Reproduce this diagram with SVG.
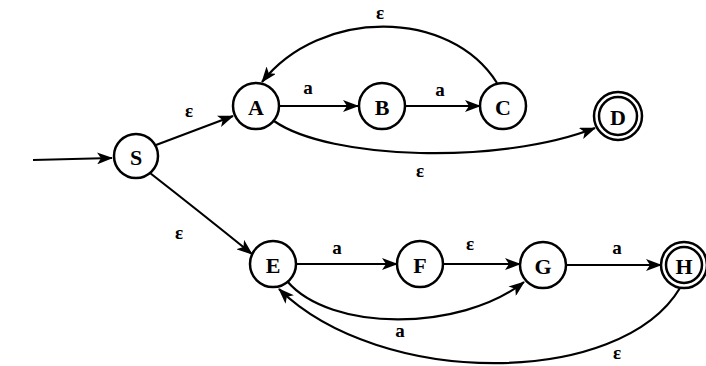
<svg xmlns="http://www.w3.org/2000/svg" width="706" height="366" viewBox="0 0 706 366">
<defs>
<marker id="ah" markerUnits="userSpaceOnUse" markerWidth="16" markerHeight="12" refX="15" refY="6" orient="auto">
<path d="M0,0 L16,6 L0,12 L4,6 Z" fill="#000"/>
</marker>
<style>
.n{fill:#fff;stroke:#000;stroke-width:2.5}
.t{font-family:"Liberation Serif","Times New Roman",serif;font-weight:bold;font-size:22px;text-anchor:middle;dominant-baseline:central;fill:#000}
.l{font-family:"Liberation Serif","Times New Roman",serif;font-weight:bold;font-size:19px;text-anchor:middle;dominant-baseline:central;fill:#000}
.e{fill:none;stroke:#000;stroke-width:2.2;marker-end:url(#ah)}
</style>
</defs>
<rect width="706" height="366" fill="#fff"/>
<g id="connectors">
<path class="e" d="M33,160 L112,158"/>
<path class="e" d="M156,145 L233,116"/>
<path class="e" d="M279,106 L358,106"/>
<path class="e" d="M406,106 L480,106"/>
<path class="e" d="M497,83 C450,8 320,8 262,82"/>
<path class="e" d="M274,121 C330,160 500,165 595,128"/>
<path class="e" d="M150,173 Q200,212 252,254"/>
<path class="e" d="M297,264 L397,264"/>
<path class="e" d="M443,264 L520,264"/>
<path class="e" d="M566,265 L661,265"/>
<path class="e" d="M287,281 C330,332 460,332 524,282"/>
<path class="e" d="M680,288 C620,388 380,388 279,289"/>
</g>
<g id="labels">
<text class="l" x="189" y="110">ε</text>
<text class="l" x="308" y="87">a</text>
<text class="l" x="440" y="89">a</text>
<text class="l" x="380" y="12">ε</text>
<text class="l" x="420" y="170">ε</text>
<text class="l" x="179" y="232">ε</text>
<text class="l" x="337" y="247">a</text>
<text class="l" x="470" y="243">ε</text>
<text class="l" x="617" y="247">a</text>
<text class="l" x="400" y="330">a</text>
<text class="l" x="617" y="352">ε</text>
</g>
<g id="S"><circle class="n" cx="136" cy="156" r="22"/><text class="t" x="136" y="157">S</text></g>
<g id="A"><circle class="n" cx="256" cy="106" r="23"/><text class="t" x="256" y="107">A</text></g>
<g id="B"><circle class="n" cx="382" cy="106" r="23"/><text class="t" x="382" y="107">B</text></g>
<g id="C"><circle class="n" cx="503" cy="106" r="23"/><text class="t" x="503" y="107">C</text></g>
<g id="D"><circle class="n" cx="618" cy="116" r="24"/><circle class="n" cx="618" cy="116" r="19"/><text class="t" x="618" y="117">D</text></g>
<g id="E"><circle class="n" cx="273" cy="264" r="23"/><text class="t" x="273" y="265">E</text></g>
<g id="F"><circle class="n" cx="420" cy="264" r="23"/><text class="t" x="420" y="265">F</text></g>
<g id="G"><circle class="n" cx="543" cy="265" r="23"/><text class="t" x="543" y="266">G</text></g>
<g id="H"><circle class="n" cx="684" cy="265" r="23"/><circle class="n" cx="684" cy="265" r="18"/><text class="t" x="684" y="266">H</text></g>
</svg>
